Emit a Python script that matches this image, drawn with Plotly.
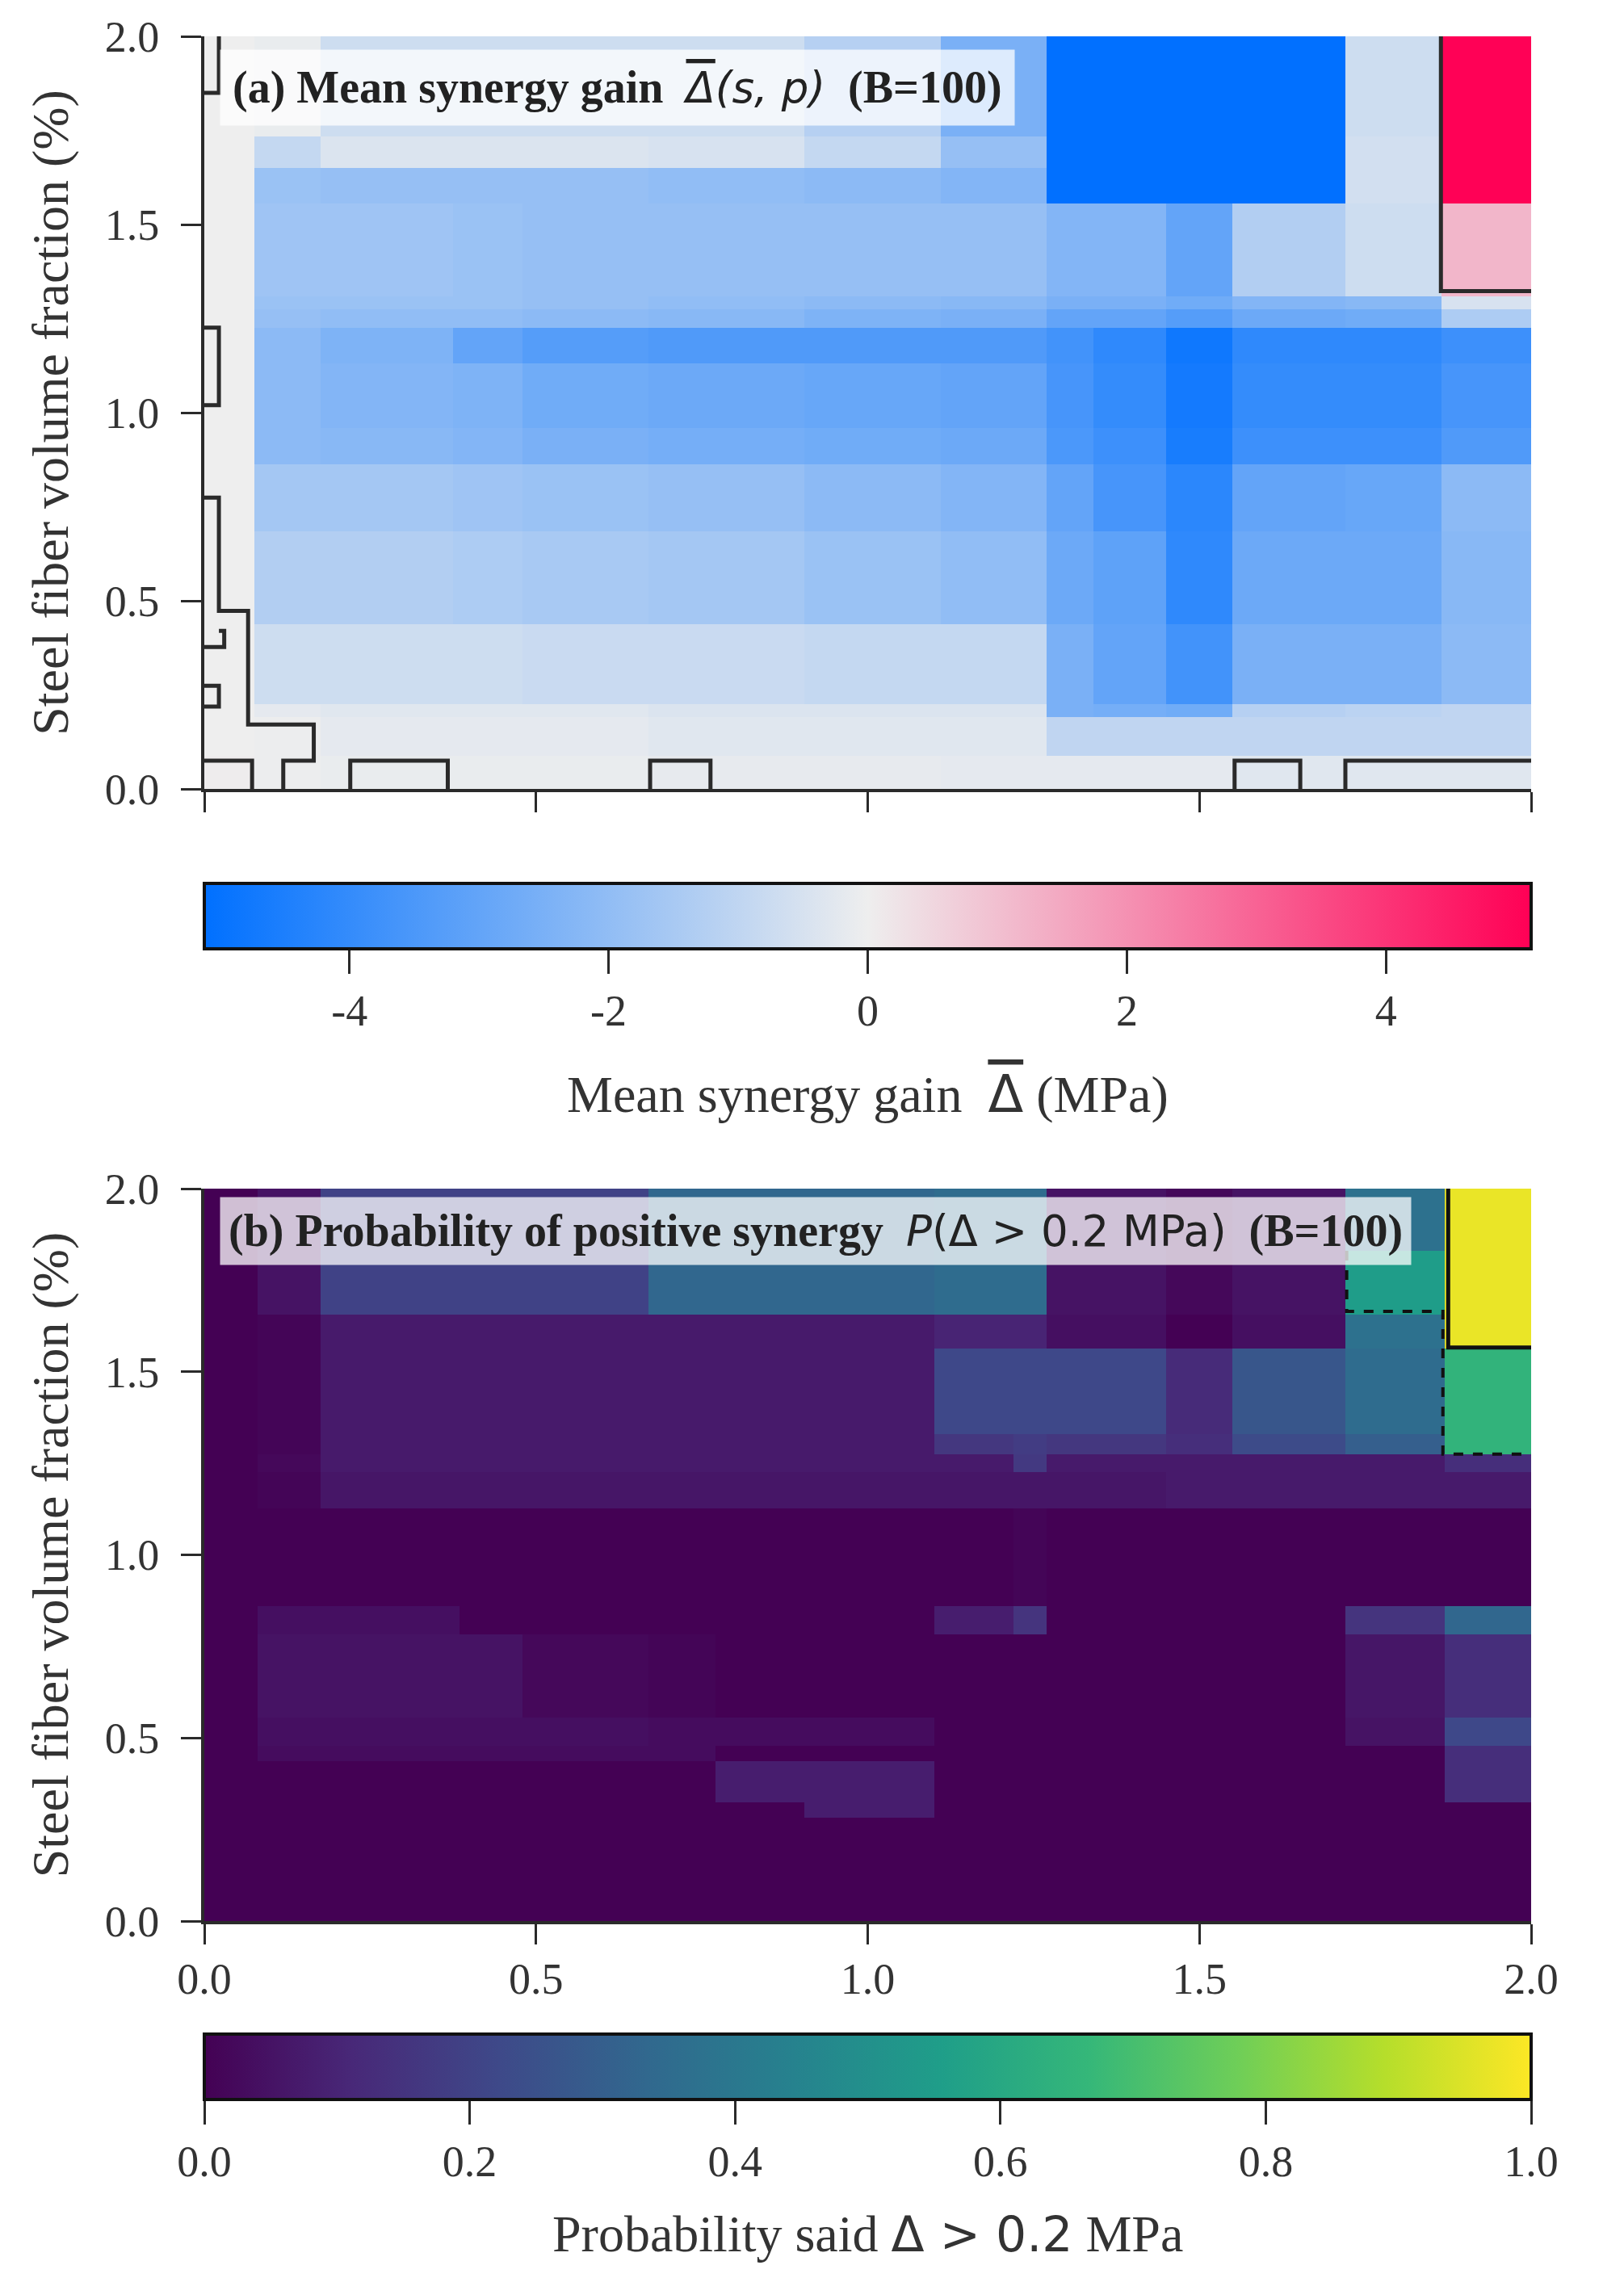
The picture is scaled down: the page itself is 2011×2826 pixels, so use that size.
import plotly.graph_objects as go

# page keeps the browser's 8px body margin, so the figure is drawn a bit smaller
W, H = 1995, 2810
OFF = 8

# panel (a): mean synergy gain
a_x_edges = [0, .075, .175, .375, .48, .67, .905, 1.11, 1.27, 1.34, 1.45, 1.55, 1.72, 1.865, 2]
a_y_edges = [0, .089, .19, .226, .438, .685, .863, .96, 1.13, 1.226, 1.274, 1.308, 1.555, 1.65, 1.733, 2]
a_gain = [
    [.05, -.05, -.1, -.1, -.1, -.15, -.15, -.2, -.2, -.2, -.2, -.3, -.3, -.3],
    [0, -.05, -.2, -.2, -.2, -.3, -.3, -.3, -1.0, -1.0, -1.0, -1.0, -1.0, -1.0],
    [0, -.2, -.3, -.3, -.3, -.4, -.4, -.4, -2.5, -2.6, -2.7, -1.2, -1.1, -1.0],
    [0, -.7, -.7, -.7, -.8, -.8, -.9, -.9, -2.5, -3.0, -3.7, -2.5, -2.5, -2.1],
    [0, -1.3, -1.3, -1.4, -1.5, -1.6, -1.8, -2.0, -2.8, -3.1, -4.1, -2.8, -2.8, -2.2],
    [0, -1.6, -1.6, -1.7, -1.8, -1.9, -2.1, -2.3, -3.0, -3.6, -4.2, -3.0, -2.9, -2.1],
    [0, -2.1, -2.2, -2.3, -2.5, -2.6, -2.7, -2.8, -3.5, -3.8, -4.6, -3.8, -3.8, -3.4],
    [0, -2.1, -2.3, -2.4, -2.7, -2.8, -2.9, -3.0, -3.6, -4.0, -4.7, -4.0, -4.0, -3.6],
    [0, -2.1, -2.4, -3.0, -3.3, -3.4, -3.4, -3.4, -3.7, -4.1, -4.8, -4.1, -4.1, -3.8],
    [0, -1.9, -2.0, -2.0, -2.1, -2.2, -2.4, -2.5, -3.0, -3.0, -3.3, -2.8, -2.7, -1.4],
    [0, -1.8, -1.8, -1.8, -1.9, -2.0, -2.1, -2.2, -2.5, -2.5, -2.7, -2.3, -2.2, -.5],
    [0, -1.7, -1.7, -1.8, -1.9, -1.9, -1.9, -1.9, -2.3, -2.3, -3.0, -1.3, -.7, 1.2],
    [0, -1.8, -1.9, -1.9, -1.9, -2.0, -2.1, -2.3, -5.1, -5.1, -5.1, -5.1, -.6, 5.1],
    [0, -.9, -.4, -.4, -.4, -.5, -.9, -1.9, -5.1, -5.1, -5.1, -5.1, -.6, 5.1],
    [0, -.1, -.7, -.7, -.7, -.7, -1.2, -2.5, -5.1, -5.1, -5.1, -5.1, -.7, 5.1],
]
a_contour_x = [0, .022, .022, None,
               0, .022, .022, 0, None,
               0, .022, .022, .066, .066, .165, .165, .119, .119, None,
               .022, .03, .03, 0, None,
               0, .022, .022, 0, None,
               0, .072, .072, None,
               .22, .22, .367, .367, None,
               .672, .672, .763, .763, None,
               1.553, 1.553, 1.652, 1.652, None,
               1.72, 1.72, 2, None,
               1.864, 1.864, 2]
a_contour_y = [1.85, 1.85, 2, None,
               1.226, 1.226, 1.02, 1.02, None,
               .774, .774, .473, .473, .171, .171, .075, .075, 0, None,
               .42, .42, .377, .377, None,
               .274, .274, .219, .219, None,
               .075, .075, 0, None,
               0, .075, .075, 0, None,
               0, .075, .075, 0, None,
               0, .075, .075, 0, None,
               0, .075, .075, None,
               2, 1.323, 1.323]

# panel (b): probability of positive synergy
b_x_edges = [0, .08, .175, .385, .48, .67, .77, .905, 1.10, 1.22, 1.27, 1.45, 1.55, 1.72, 1.87, 2]
b_y_edges = [0, .282, .324, .437, .479, .556, .782, .859, 1.127, 1.225, 1.275, 1.33, 1.563, 1.655, 1.83, 2]
b_prob = [
    [0, 0, 0, 0, 0, 0, 0, 0, 0, 0, 0, 0, 0, 0, 0],
    [0, 0, 0, 0, 0, 0, 0, .08, 0, 0, 0, 0, 0, 0, 0],
    [0, 0, 0, 0, 0, 0, .08, .08, 0, 0, 0, 0, 0, 0, .13],
    [0, .03, .03, .03, .03, .03, 0, 0, 0, 0, 0, 0, 0, 0, .13],
    [0, .04, .04, .04, .04, .03, .03, .03, 0, 0, 0, 0, 0, .05, .22],
    [0, .05, .05, .05, .02, .01, 0, 0, 0, 0, 0, 0, 0, .06, .13],
    [0, .04, .04, 0, 0, 0, 0, 0, .08, .15, 0, 0, 0, .15, .33],
    [0, 0, 0, 0, 0, 0, 0, 0, 0, .01, 0, 0, 0, 0, 0],
    [0, .01, .06, .06, .06, .06, .06, .06, .06, .06, .06, .07, .07, .07, .07],
    [0, .02, .07, .07, .07, .07, .07, .07, .07, .17, .07, .07, .07, .07, .13],
    [0, .01, .07, .07, .07, .07, .07, .07, .16, .18, .16, .13, .23, .30, .65],
    [0, .01, .07, .07, .07, .07, .07, .07, .22, .22, .22, .12, .27, .35, .65],
    [0, .01, .07, .07, .07, .07, .07, .07, .10, .10, .04, 0, .04, .37, .97],
    [0, .05, .20, .20, .20, .33, .33, .33, .35, .35, .05, .02, .05, .55, .97],
    [0, .05, .20, .20, .20, .33, .33, .33, .35, .35, .05, .02, .05, .37, .97],
]
b_solid_x = [1.875, 1.875, 2]
b_solid_y = [2, 1.566, 1.566]
b_dash_x = [1.722, 1.722, 1.867, 1.867, 2]
b_dash_y = [1.83, 1.665, 1.665, 1.275, 1.275]

axis_ticks = [0, .5, 1, 1.5, 2]
axis_ticktext = ['0.0', '0.5', '1.0', '1.5', '2.0']
gain_ticks = [-4, -2, 0, 2, 4]
prob_ticks = [0, .2, .4, .6, .8, 1]
prob_ticktext = ['0.0', '0.2', '0.4', '0.6', '0.8', '1.0']

gain_colors = [[0, '#0070ff'], [.5, '#eeeeee'], [1, '#ff0055']]

SERIF = 'Liberation Serif'
TEXT = '#333333'
LINE = '#2a2a2a'

# plot area in window pixels, the paper runs from the top of panel (a) to the bottom of the last colorbar
LEFT, RIGHT, TOP, BOTTOM = 253, 1896, 45, 2600


def xd(px):
    return (px - LEFT) / (RIGHT - LEFT)


def yd(px):
    return (BOTTOM - px) / (BOTTOM - TOP)


def colorbar(tickvals, ticktext, top, bottom):
    return dict(
        orientation='h', lenmode='pixels', len=RIGHT - LEFT, thicknessmode='pixels', thickness=bottom - top,
        x=0, xanchor='left', y=yd(top), yanchor='top', ypad=0, xpad=0,
        outlinecolor='#111111', outlinewidth=4,
        ticks='outside', ticklen=29, tickwidth=3, tickcolor=LINE,
        tickvals=tickvals, ticktext=ticktext,
        tickfont=dict(family=SERIF, size=54, color=TEXT),
    )


fig = go.Figure()

fig.add_trace(go.Heatmap(
    x=a_x_edges, y=a_y_edges, z=a_gain, colorscale=gain_colors, zmin=-5.12, zmax=5.12,
    colorbar=colorbar(gain_ticks, [str(t) for t in gain_ticks], 1094, 1175),
    xaxis='x', yaxis='y', hoverinfo='skip',
))
fig.add_trace(go.Scatter(x=a_contour_x, y=a_contour_y, mode='lines', showlegend=False,
                         line=dict(color=LINE, width=5), xaxis='x', yaxis='y'))

fig.add_trace(go.Heatmap(
    x=b_x_edges, y=b_y_edges, z=b_prob, colorscale='Viridis', zmin=0, zmax=1,
    colorbar=colorbar(prob_ticks, prob_ticktext, 2519, 2600),
    xaxis='x2', yaxis='y2', hoverinfo='skip',
))
fig.add_trace(go.Scatter(x=b_solid_x, y=b_solid_y, mode='lines', showlegend=False,
                         line=dict(color='#111111', width=5), xaxis='x2', yaxis='y2'))
fig.add_trace(go.Scatter(x=b_dash_x, y=b_dash_y, mode='lines', showlegend=False,
                         line=dict(color='#111111', width=4, dash='dash'), xaxis='x2', yaxis='y2'))

axis_style = dict(
    range=[0, 2], tickvals=axis_ticks, ticktext=axis_ticktext, ticks='outside', ticklen=25, tickwidth=3,
    tickcolor=LINE, showline=True, linecolor=LINE, linewidth=4, showgrid=False, zeroline=False,
    automargin=False, tickfont=dict(family=SERIF, size=54, color=TEXT),
)
y_title = dict(text='Steel fiber volume fraction (%)', font=dict(family=SERIF, size=64, color=TEXT), standoff=25)

fig.update_layout(
    width=W, height=H, margin=dict(l=LEFT - OFF, r=W + OFF - RIGHT, t=TOP - OFF, b=H + OFF - BOTTOM),
    paper_bgcolor='white', plot_bgcolor='white', showlegend=False,
    xaxis=dict(domain=[0, 1], anchor='y', showticklabels=False, **axis_style),
    yaxis=dict(domain=[yd(977), yd(45)], anchor='x', title=y_title, ticklabelstandoff=16, **axis_style),
    xaxis2=dict(domain=[0, 1], anchor='y2', ticklabelstandoff=-4, **axis_style),
    yaxis2=dict(domain=[yd(2379), yd(1472)], anchor='x2', title=y_title, ticklabelstandoff=16, **axis_style),
    annotations=[
        dict(xref='paper', yref='paper', x=xd(272), y=yd(108), xanchor='left', yanchor='middle',
             text='<b>(a) Mean synergy gain</b>  <span style="font-family:DejaVu Sans;font-size:53px"><i><span style="text-decoration:overline">\u0394</span>(s, p)</i></span>  <b>(B=100)</b>',
             showarrow=False, font=dict(family=SERIF, size=56, color='#222222'),
             bgcolor='rgba(255,255,255,0.75)', borderpad=15),
        dict(xref='paper', yref='paper', x=xd(272), y=yd(1524), xanchor='left', yanchor='middle',
             text='<b>(b) Probability of positive synergy</b>  <span style="font-family:DejaVu Sans;font-size:53px"><i>P</i>(\u0394 &gt; 0.2 MPa)</span>  <b>(B=100)</b>',
             showarrow=False, font=dict(family=SERIF, size=56, color='#222222'),
             bgcolor='rgba(255,255,255,0.75)', borderpad=10),
        dict(xref='paper', yref='paper', x=.5, y=yd(1355), xanchor='center', yanchor='middle', showarrow=False,
             text='Mean synergy gain  <span style="font-family:DejaVu Sans;text-decoration:overline">\u0394</span> (MPa)',
             font=dict(family=SERIF, size=64, color=TEXT)),
        dict(xref='paper', yref='paper', x=.5, y=yd(2766), xanchor='center', yanchor='middle', showarrow=False,
             text='Probability said <span style="font-family:DejaVu Sans;font-size:60px">\u0394 &gt; 0.2</span> MPa',
             font=dict(family=SERIF, size=64, color=TEXT)),
    ],
)

fig.write_html("out.html")
